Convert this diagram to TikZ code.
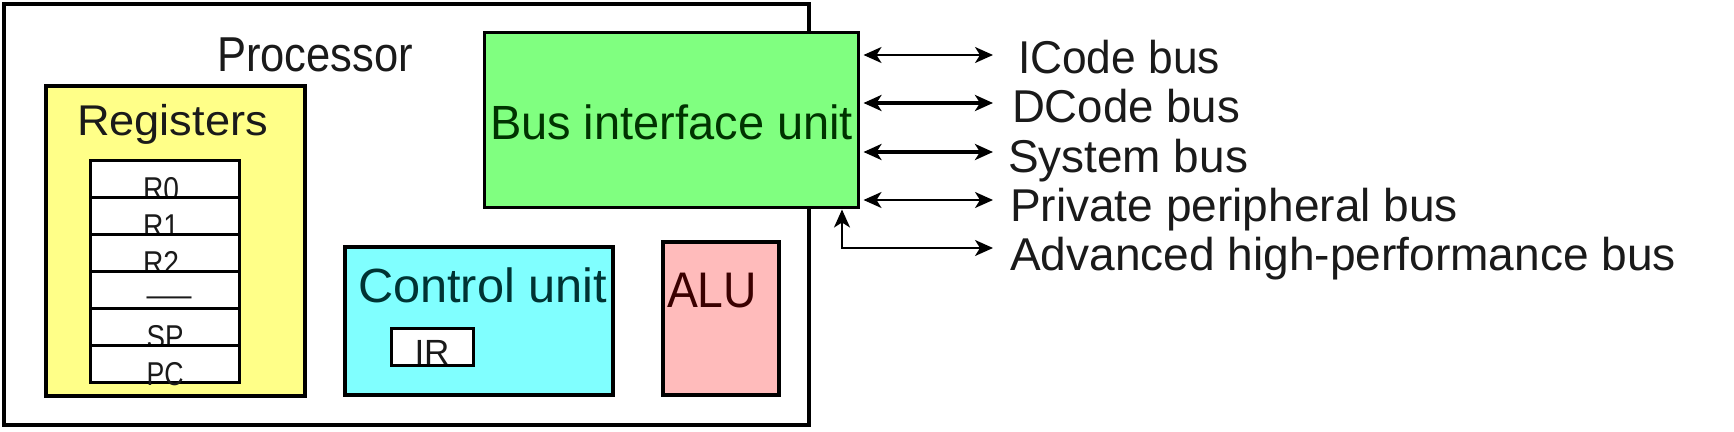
\documentclass[tikz,border=0pt]{standalone}
\usepackage{fontspec}
\setmainfont{Liberation Sans}
\usetikzlibrary{arrows.meta}
\newcommand{\fitto}[2]{\resizebox{#1}{\height}{#2}}
\newcommand{\fs}[1]{\fontsize{#1}{#1}\selectfont}
\definecolor{regfill}{HTML}{FFFF88}
\definecolor{biufill}{HTML}{80FF80}
\definecolor{cufill}{HTML}{80FFFF}
\definecolor{alufill}{HTML}{FFBBBB}
\definecolor{biutext}{HTML}{003300}
\definecolor{cutext}{HTML}{003333}
\definecolor{alutext}{HTML}{3A0000}
\definecolor{darktext}{HTML}{1A1A1A}
\begin{document}
\begin{tikzpicture}[x=1pt,y=-1pt,
  box/.style={draw=black, line width=4pt, inner sep=0pt, outer sep=0pt, anchor=north west},
  thinbox/.style={box, line width=3pt},
  lbl/.style={inner sep=0pt, outer sep=0pt, anchor=base west, text=darktext},
  rowlbl/.style={inner sep=0pt, outer sep=0pt, anchor=base, text=darktext},
  thinbus/.style={draw=black, line width=2pt, {Stealth[length=18pt,width=16pt,inset=5pt]}-{Stealth[length=18pt,width=16pt,inset=5pt]}},
  thickbus/.style={draw=black, line width=4pt, {Stealth[length=18pt,width=16pt,inset=5pt]}-{Stealth[length=18pt,width=16pt,inset=5pt]}}
]
\useasboundingbox[fill=white] (0,0) rectangle (1734,431);

% Processor frame
\node[box, fill=white, minimum width=805pt, minimum height=421pt] (proc) at (4,4) {};
\node[lbl] (tproc) at (217,71) {\fs{49}\fitto{196pt}{Processor}};

% Registers
\node[box, fill=regfill, minimum width=259pt, minimum height=310pt] (regs) at (46,86) {};
\node[lbl] (tregs) at (77,135) {\fs{43}\fitto{191pt}{Registers}};

\node[thinbox, fill=white, minimum width=149pt, minimum height=37pt] (r0) at (90,160) {};
\node[rowlbl] (t0) at (161,200) {\fs{33}\fitto{36pt}{R0}};
\node[thinbox, fill=white, minimum width=149pt, minimum height=37pt] (r1) at (90,197) {};
\node[rowlbl] (t1) at (161,237) {\fs{33}\fitto{36pt}{R1}};
\node[thinbox, fill=white, minimum width=149pt, minimum height=37pt] (r2) at (90,234) {};
\node[rowlbl] (t2) at (161,274) {\fs{33}\fitto{36pt}{R2}};
\node[thinbox, fill=white, minimum width=149pt, minimum height=37pt] (r3) at (90,271) {};
\node[rowlbl] (t3) at (169,305) {\fs{30}\fitto{45pt}{—}};
\node[thinbox, fill=white, minimum width=149pt, minimum height=37pt] (r4) at (90,308) {};
\node[rowlbl] (t4) at (165,348) {\fs{33}\fitto{37pt}{SP}};
\node[thinbox, fill=white, minimum width=149pt, minimum height=37pt] (r5) at (90,345) {};
\node[rowlbl] (t5) at (165,385) {\fs{33}\fitto{37pt}{PC}};

% Control unit
\node[box, fill=cufill, minimum width=268pt, minimum height=148pt] (cu) at (345,247) {};
\node[lbl, text=cutext] (tcu) at (358,302) {\fs{48}\fitto{249pt}{Control unit}};
\node[thinbox, fill=white, minimum width=82pt, minimum height=37pt] (ir) at (391.5,328.5) {};
\node[rowlbl] (tir) at (432,364) {\fs{35}IR};

% ALU
\node[box, fill=alufill, minimum width=116pt, minimum height=153pt] (alu) at (663,242) {};
\node[lbl, text=alutext] (talu) at (667,307) {\fs{50}\fitto{90pt}{ALU}};

% Bus interface unit
\node[thinbox, fill=biufill, minimum width=374pt, minimum height=175pt] (biu) at (484.5,32.5) {};
\node[lbl, text=biutext] (tbiu) at (490,139) {\fs{48}\fitto{363pt}{Bus interface unit}};

% Bus labels
\node[lbl] (l1) at (1018,73) {\fs{46}\fitto{202pt}{ICode bus}};
\node[lbl] (l2) at (1012,122) {\fs{46}\fitto{228pt}{DCode bus}};
\node[lbl] (l3) at (1008,172) {\fs{46}\fitto{240pt}{System bus}};
\node[lbl] (l4) at (1010,221) {\fs{46}\fitto{448pt}{Private peripheral bus}};
\node[lbl] (l5) at (1010,270) {\fs{46}\fitto{666pt}{Advanced high-performance bus}};

% Arrow end points
\coordinate (e1) at (993,55);
\coordinate (e2) at (993,103);
\coordinate (e3) at (993,152);
\coordinate (e4) at (993,200);
\coordinate (e5) at (993,248);
\coordinate (c5) at (842,248);

\draw[thinbus] ([xshift=5pt]biu.east |- e1) -- (e1);
\draw[thickbus] ([xshift=5pt]biu.east |- e2) -- (e2);
\draw[thickbus] ([xshift=5pt]biu.east |- e3) -- (e3);
\draw[thinbus] ([xshift=5pt]biu.east |- e4) -- (e4);
\draw[thinbus] ([yshift=-2pt]biu.south -| c5) -- (c5) -- (e5);
\end{tikzpicture}
\end{document}
